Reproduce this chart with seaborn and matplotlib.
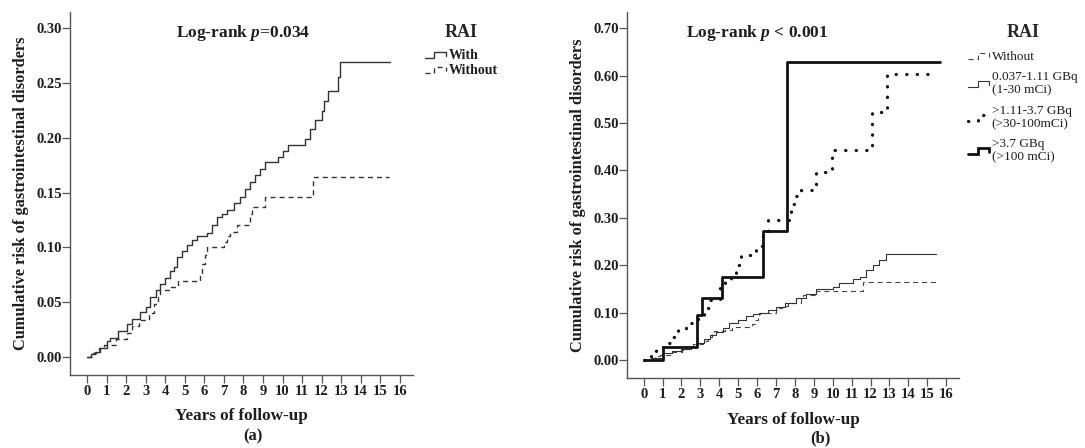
import numpy as np
import pandas as pd
import matplotlib
matplotlib.use("Agg")
import matplotlib.pyplot as plt
import seaborn as sns
from matplotlib.legend_handler import HandlerBase
from matplotlib.lines import Line2D

# ---- data (Kaplan-Meier style cumulative risk) ----
# panel (a)
with_t = [0, 0.2, 0.4, 0.67, 1.0, 1.18, 1.6, 2.03, 2.3, 2.71, 3.0, 3.22, 3.5, 3.74, 4.0,
          4.25, 4.45, 4.59, 4.85, 5.1, 5.35, 5.61, 6.12, 6.4, 6.64, 6.9, 7.15, 7.5,
          7.83, 8.1, 8.34, 8.6, 8.85, 9.11, 9.79, 10.0, 10.3, 11.16, 11.41, 11.67,
          12.0, 12.1, 12.35, 12.86, 12.95, 15.5]
with_v = [0, 0.003, 0.005, 0.008, 0.015, 0.017, 0.024, 0.030, 0.035, 0.041, 0.046,
          0.055, 0.061, 0.067, 0.072, 0.078, 0.082, 0.091, 0.097, 0.102, 0.107, 0.110,
          0.113, 0.120, 0.128, 0.130, 0.134, 0.140, 0.146, 0.153, 0.160, 0.166, 0.171,
          0.178, 0.182, 0.188, 0.193, 0.199, 0.208, 0.216, 0.224, 0.233, 0.243, 0.255,
          0.269, 0.269]

without_t = [0, 0.3, 0.6, 0.84, 1.5, 2.03, 2.3, 2.63, 3.14, 3.4, 3.6, 3.74, 4.3, 4.67,
             5.75, 5.9, 6.05, 6.12, 7.0, 7.15, 7.32, 7.66, 8.34, 8.45, 9.11, 11.58, 15.45]
without_v = [0, 0.004, 0.008, 0.011, 0.016, 0.022, 0.028, 0.034, 0.040, 0.048, 0.055,
             0.061, 0.064, 0.069, 0.075, 0.085, 0.093, 0.100, 0.105, 0.110, 0.114,
             0.120, 0.130, 0.137, 0.146, 0.164, 0.164]

# panel (b)
low_t = [0, 0.5, 1.02, 1.5, 2.0, 2.5, 2.79, 3.2, 3.5, 3.84, 4.2, 4.54, 5.0, 5.43, 5.8,
         6.13, 6.6, 7.01, 7.5, 8.07, 8.6, 9.13, 10.0, 10.34, 11.06, 11.42, 11.77,
         12.13, 12.47, 12.83, 15.47]
low_v = [0, 0.005, 0.015, 0.020, 0.024, 0.028, 0.035, 0.045, 0.052, 0.060, 0.067,
         0.077, 0.085, 0.092, 0.096, 0.100, 0.105, 0.112, 0.120, 0.130, 0.140, 0.150,
         0.155, 0.162, 0.170, 0.176, 0.190, 0.200, 0.211, 0.223, 0.223]

mid_t = [0, 0.4, 0.67, 1.0, 1.37, 1.8, 2.25, 2.87, 3.2, 3.49, 4.02, 4.3, 4.63, 4.9,
         5.16, 5.96, 6.3, 6.57, 7.8, 8.0, 8.33, 8.9, 9.1, 9.98, 12.1, 12.86, 15.4]
mid_v = [0, 0.008, 0.021, 0.035, 0.049, 0.063, 0.077, 0.095, 0.110, 0.127, 0.152,
         0.165, 0.180, 0.200, 0.222, 0.240, 0.268, 0.296, 0.330, 0.345, 0.358, 0.370,
         0.397, 0.443, 0.524, 0.604, 0.604]

high_t = [0, 1.02, 2.82, 3.1, 4.12, 6.3, 7.58, 15.7]
high_v = [0, 0.028, 0.095, 0.131, 0.176, 0.272, 0.629, 0.629]

left_groups = ["With", "Without"]
right_groups = ["Without", "0.037-1.11 GBq\n(1-30 mCi)",
                ">1.11-3.7 GBq\n(>30-100mCi)", ">3.7 GBq\n(>100 mCi)"]

sns.set_style("ticks")
plt.rcParams["font.family"] = ["Liberation Serif", "DejaVu Serif"]
plt.rcParams["font.weight"] = "bold"
plt.rcParams["mathtext.fontset"] = "custom"
plt.rcParams["mathtext.rm"] = "Liberation Serif:bold"
plt.rcParams["mathtext.it"] = "Liberation Serif:italic:bold"

ink = "#333333"
spine_c = "#555555"
txt_c = "#1e1e1e"


class StepHandler(HandlerBase):
    # SPSS-style little step glyph in the legend
    def create_artists(self, legend, orig, xd, yd, w, h, fs, trans):
        x0 = -xd
        lo, hi = -yd + 0.1 * h, -yd + 0.75 * h
        xs = [x0, x0 + 0.45 * w, x0 + 0.45 * w, x0 + w, x0 + w]
        ys = [lo, lo, hi, hi, lo + 0.35 * (hi - lo)]
        ln = Line2D(xs, ys)
        ln.update_from(orig)
        ln.set_drawstyle("default")
        ln.set_solid_joinstyle("miter")
        ln.set_transform(trans)
        ln.set_clip_on(False)
        return [ln]


fig = plt.figure(figsize=(10.85, 4.48), dpi=100)
axL = fig.add_axes([70 / 1085, 73 / 448, 343 / 1085, 363 / 448])
axR = fig.add_axes([627 / 1085, 70 / 448, 332 / 1085, 366 / 448])

dfL = pd.DataFrame({"t": with_t, "v": with_v})
dfW = pd.DataFrame({"t": without_t, "v": without_v})

sns.lineplot(data=dfL, x="t", y="v", ax=axL, drawstyle="steps-post", color=ink,
             linewidth=1.0, estimator=None, legend=False)
sns.lineplot(data=dfW, x="t", y="v", ax=axL, drawstyle="steps-post", color=ink,
             linewidth=1.0, linestyle=(0, (3.6, 2.9)), estimator=None, legend=False)

styles_R = [
    dict(data=dfW, color="#444444", linewidth=0.8, linestyle=(0, (4.5, 3.5))),
    dict(data=pd.DataFrame({"t": low_t, "v": low_v}), color="#333333", linewidth=0.8,
         linestyle="-"),
    dict(data=pd.DataFrame({"t": mid_t, "v": mid_v}), color="#111111", linewidth=2.3,
         linestyle=(0, (0.1, 3.2)), dash_capstyle="round"),
    dict(data=pd.DataFrame({"t": high_t, "v": high_v}), color="#111111", linewidth=2.0,
         linestyle="-"),
]
for st in styles_R:
    st = dict(st)
    d = st.pop("data")
    sns.lineplot(data=d, x="t", y="v", ax=axR, drawstyle="steps-post",
                 estimator=None, legend=False, **st)

for ax, ylim, yt, lp in [(axL, (-0.0164, 0.3146), np.arange(0, 0.301, 0.05), 7),
                         (axR, (-0.038, 0.734), np.arange(0, 0.701, 0.1), 7.5)]:
    ax.set_xlim(-0.88, 16.68)
    ax.set_ylim(*ylim)
    ax.set_xticks(range(0, 17))
    ax.set_yticks(yt)
    ax.set_yticklabels([f"{v:.2f}" for v in yt])
    sns.despine(ax=ax)
    for s in ("left", "bottom"):
        ax.spines[s].set_color(spine_c)
        ax.spines[s].set_linewidth(1.0)
    ax.tick_params(axis="both", direction="out", length=5.5, width=0.9, color=spine_c,
                   labelcolor=txt_c)
    ax.tick_params(axis="y", labelsize=10.5, pad=0.5)
    ax.tick_params(axis="x", labelsize=10.5, pad=2)
    ax.set_xlabel("Years of follow-up", fontsize=12.3, fontweight="bold", labelpad=lp,
                  color=txt_c)
    ax.set_ylabel("Cumulative risk of gastrointestinal disorders", fontsize=11.8,
                  fontweight="bold", labelpad=5, color=txt_c)

axL.text(0.504, 0.942, "Log-rank $p$=0.034", transform=axL.transAxes, ha="center",
         va="center", fontsize=12.5, fontweight="bold", color=txt_c)
axR.text(0.392, 0.943, "Log-rank $p$ < 0.001", transform=axR.transAxes, ha="center",
         va="center", fontsize=12.5, fontweight="bold", color=txt_c)

fig.text(253 / 1085, 1 - 436 / 448, "(a)", ha="center", va="center", fontsize=12,
         fontweight="bold", color=txt_c)
fig.text(820 / 1085, 1 - 438 / 448, "(b)", ha="center", va="center", fontsize=12,
         fontweight="bold", color=txt_c)

# legends
hL = axL.get_lines()
legL = axL.legend(hL, left_groups, handler_map={Line2D: StepHandler()},
                  loc="upper left", bbox_to_anchor=(425 / 1085, 1 - 24 / 448),
                  bbox_transform=fig.transFigure, frameon=False, borderpad=0,
                  borderaxespad=0, handlelength=1.5, handletextpad=0.2,
                  labelspacing=0.15,
                  title="RAI", title_fontproperties={"size": 13, "weight": "bold"},
                  prop={"size": 10, "weight": "bold"})
legL._legend_box.sep = 6
for t in legL.get_texts():
    t.set_color(txt_c)

hR = axR.get_lines()
legR = axR.legend(hR, right_groups, handler_map={Line2D: StepHandler()},
                  loc="upper left", bbox_to_anchor=(968 / 1085, 1 - 24 / 448),
                  bbox_transform=fig.transFigure, frameon=False, borderpad=0,
                  borderaxespad=0, handlelength=1.6, handletextpad=0.2,
                  labelspacing=0.62,
                  title="RAI", title_fontproperties={"size": 13, "weight": "bold"},
                  prop={"size": 9.5, "weight": "normal"})
legR._legend_box.sep = 7
for t in legR.get_texts():
    t.set_color(txt_c)
    t.set_linespacing(1.15)

fig.savefig("out.png", dpi=100)
